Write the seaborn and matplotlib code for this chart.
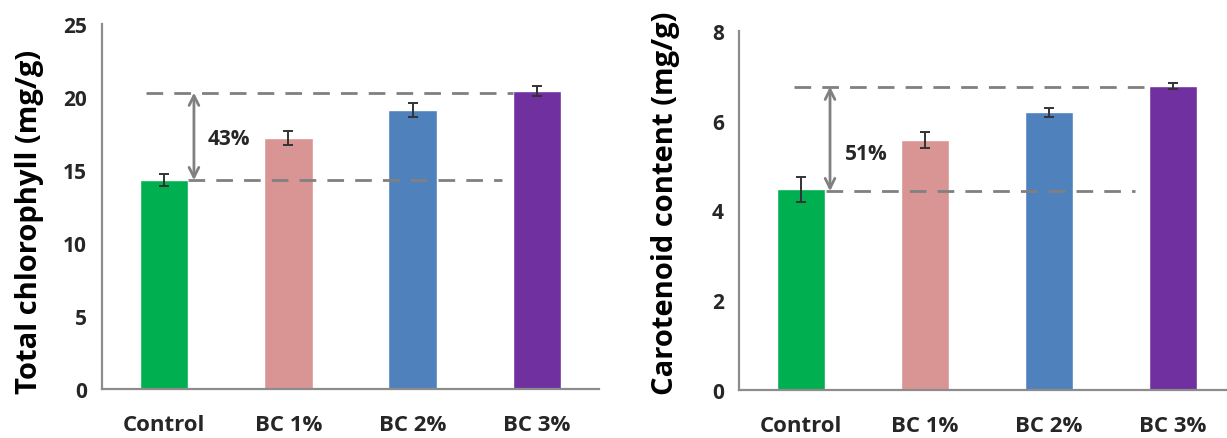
import matplotlib
matplotlib.use("Agg")
import matplotlib.pyplot as plt
import seaborn as sns
import numpy as np
import pandas as pd

# Treatments and measured pigment contents (mean ± error)
categories = ["Control", "BC 1%", "BC 2%", "BC 3%"]
chlorophyll = [14.3, 17.2, 19.1, 20.4]
chlorophyll_err = [0.4, 0.5, 0.5, 0.35]
carotenoid = [4.47, 5.58, 6.19, 6.78]
carotenoid_err = [0.27, 0.18, 0.10, 0.07]
bar_colors = ["#00B050", "#D99594", "#4F81BD", "#7030A0"]
increase_labels = ["43%", "51%"]

sns.set_style("white")
plt.rcParams["font.family"] = ["Open Sans", "DejaVu Sans"]
plt.rcParams["font.weight"] = "bold"

TEXT = "#262626"
AXIS = "#8C8C8C"
GUIDE = "#808080"

fig = plt.figure(figsize=(12.27, 4.39), dpi=100)
W, H = 1227, 439


def px_axes(x0, x1, y_top, y_bottom):
    return fig.add_axes([x0 / W, 1 - y_bottom / H, (x1 - x0) / W, (y_bottom - y_top) / H])


ax1 = px_axes(102, 599, 25, 390)
ax2 = px_axes(739, 1235, 32, 391)


def draw_panel(ax, values, errs, ymax, ystep, ylabel, label_xy,
               top_span, low_span, arrow_x, pct, pct_xy):
    df = pd.DataFrame({"treatment": categories, "value": values})
    sns.barplot(data=df, x="treatment", y="value", hue="treatment",
                palette=bar_colors, width=0.39, saturation=1, legend=False, ax=ax)
    ax.errorbar(np.arange(len(categories)), values, yerr=errs, fmt="none",
                ecolor="#333333", elinewidth=1.4, capsize=3.5, capthick=1.4, zorder=5)

    ax.set_xlim(-0.5, len(categories) - 0.5)
    ax.set_ylim(0, ymax)
    ticks = np.arange(0, ymax + 0.01, ystep)
    ax.set_yticks(ticks)
    ax.set_yticklabels([f"{v:g}" for v in ticks])

    # category boundaries carry the tick marks, labels sit at centres
    ax.set_xticks(np.arange(len(categories)))
    ax.set_xticklabels(categories)
    ax.set_xticks(np.arange(-0.5, len(categories)), minor=True)
    ax.tick_params(axis="x", which="major", length=0, pad=18, labelsize=16,
                   labelcolor=TEXT)
    ax.tick_params(axis="x", which="minor", length=8, width=1.2, color=AXIS,
                   direction="out")
    ax.tick_params(axis="y", length=3, width=1.0, color=AXIS, pad=8,
                   labelsize=15, labelcolor=TEXT, direction="out")
    for lab in ax.get_xticklabels() + ax.get_yticklabels():
        lab.set_fontweight("bold")

    for side in ("top", "right"):
        ax.spines[side].set_visible(False)
    for side in ("left", "bottom"):
        ax.spines[side].set_color(AXIS)
        ax.spines[side].set_linewidth(1.6)

    ax.set_xlabel("")
    ax.set_ylabel(ylabel, fontsize=21, fontweight="bold", color="#000000")
    ax.yaxis.set_label_coords(*label_xy)

    top_level = top_span[2]
    low_level = low_span[2]
    ax.hlines(top_level, top_span[0], top_span[1], colors=GUIDE, linewidth=2,
              linestyles=(0, (6, 4)), zorder=4)
    ax.hlines(low_level, low_span[0], low_span[1], colors=GUIDE, linewidth=2,
              linestyles=(0, (6, 4)), zorder=4)
    ax.annotate("", xy=(arrow_x, top_level), xytext=(arrow_x, low_level),
                arrowprops=dict(arrowstyle="<->,head_length=0.7,head_width=0.35",
                                color=GUIDE, lw=2, shrinkA=0, shrinkB=0))
    ax.text(pct_xy[0], pct_xy[1], pct, ha="center", va="center", fontsize=15,
            fontweight="bold", color=TEXT)


draw_panel(ax1, chlorophyll, chlorophyll_err, 25, 5, "Total chlorophyll (mg/g)",
           (-0.117, 0.46),
           (-0.145, 2.805, 20.3), (0.195, 2.72, 14.3), 0.24, increase_labels[0],
           (0.52, 17.15))
draw_panel(ax2, carotenoid, carotenoid_err, 8, 2, "Carotenoid content (mg/g)",
           (-0.119, 0.522),
           (-0.056, 2.805, 6.76), (0.2, 2.69, 4.43), 0.234, increase_labels[1],
           (0.524, 5.28))

fig.savefig("out.png", dpi=100, facecolor="white")
